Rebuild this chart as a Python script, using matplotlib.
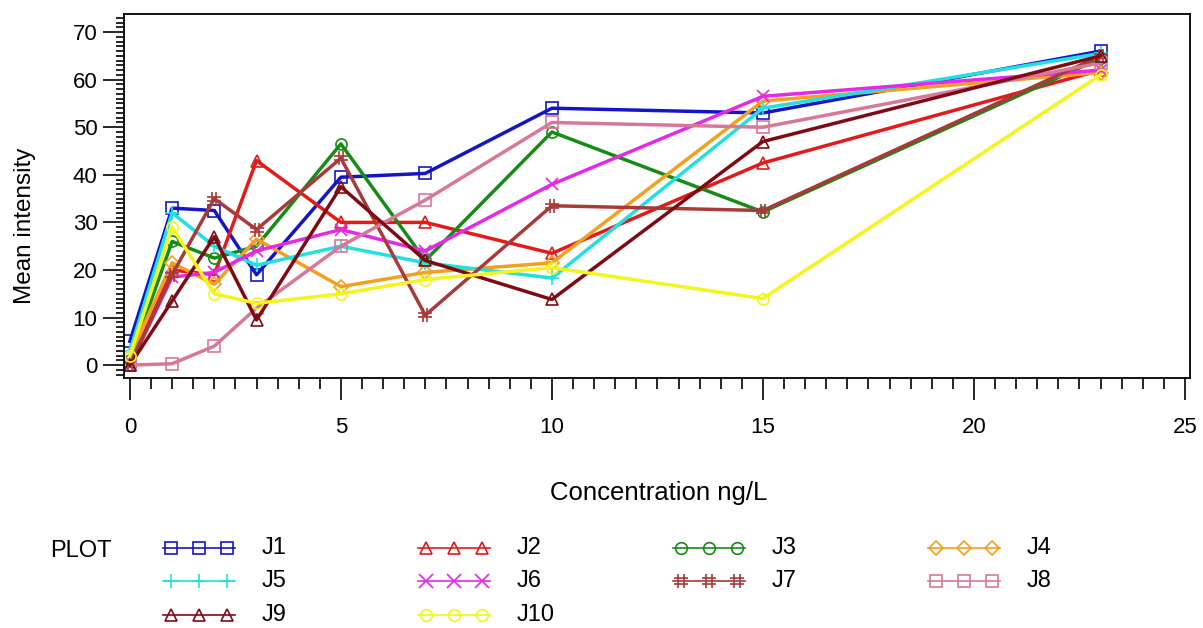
import matplotlib
matplotlib.use("Agg")
import matplotlib.pyplot as plt
from matplotlib.path import Path
from matplotlib.ticker import MultipleLocator

plt.rcParams['font.family'] = ['Liberation Sans', 'DejaVu Sans']

conc = [0, 1, 2, 3, 5, 7, 10, 15, 23]

names = ["J1", "J2", "J3", "J4", "J5", "J6", "J7", "J8", "J9", "J10"]
j1 = [5, 33, 32.5, 19, 39.5, 40.3, 54, 53, 66]
j2 = [0, 20, 19, 43, 30, 30, 23.5, 42.5, 62]
j3 = [1, 26, 22.5, 25, 46.5, 22, 49, 32.2, 64.5]
j4 = [2, 21.5, 17, 26.5, 16.5, 19.5, 21.5, 55.5, 61.5]
j5 = [3, 32, 25, 21, 25, 21.5, 18.3, 54, 65.5]
j6 = [0, 18.5, 19.5, 24, 28.5, 24, 38, 56.5, 62]
j7 = [0, 19, 35, 28.5, 43.5, 10.5, 33.5, 32.5, 65]
j8 = [0, 0.3, 4, 12, 25, 34.7, 51, 50, 63.5]
j9 = [0, 13.5, 27, 9.5, 37.5, 22, 13.8, 47, 65]
j10 = [2, 29, 15, 13, 15, 18, 20.5, 14, 61]
series = [j1, j2, j3, j4, j5, j6, j7, j8, j9, j10]

# open "#" symbol built from four strokes
hash_mark = Path(
    [(-0.35, -1), (-0.35, 1), (0.35, -1), (0.35, 1),
     (-1, -0.35), (1, -0.35), (-1, 0.35), (1, 0.35)],
    [Path.MOVETO, Path.LINETO] * 4)

colors = ["#1515c8", "#e41a1a", "#178a17", "#f2a020", "#22e0e0",
          "#e52ae5", "#a83a3a", "#d6789a", "#7e0a14", "#f4f41e"]
markers = ["s", "^", "o", "D", "+", "x", hash_mark, "s", "^", "o"]
msizes = [8, 8, 8, 7, 10, 9, 10, 8, 8, 8]

fig = plt.figure(figsize=(12.03, 6.28), dpi=100)
ax = fig.add_axes([124 / 1203, 1 - 378 / 628, (1190 - 124) / 1203, (378 - 14) / 628])

for vals, c, m, ms in zip(series, colors, markers, msizes):
    ax.plot(conc, vals, color=c, lw=2.5, marker=m, ms=ms, mfc="none",
            mec=c, mew=1.2)

ax.set_xlim(-0.14, 25.12)
ax.set_ylim(-2.7, 73.8)
ax.xaxis.set_major_locator(MultipleLocator(5))
ax.xaxis.set_minor_locator(MultipleLocator(0.5))
ax.yaxis.set_major_locator(MultipleLocator(10))
ax.yaxis.set_minor_locator(MultipleLocator(1))
ax.tick_params(axis="x", which="major", length=16, width=1.2, pad=12, labelsize=16)
ax.tick_params(axis="x", which="minor", length=8, width=1.2)
ax.tick_params(axis="y", which="major", length=15, width=1.2, pad=4, labelsize=16)
ax.tick_params(axis="y", which="minor", length=6, width=1.2)
for sp in ax.spines.values():
    sp.set_linewidth(1.3)

fig.text(25 / 1203, 1 - 226 / 628, "Mean intensity", rotation=90,
         ha="center", va="center", fontsize=17.5)
fig.text(659 / 1203, 1 - 493 / 628, "Concentration ng/L",
         ha="center", va="center", fontsize=18.5)

# legend block under the axis
fig.text(50 / 1203, 1 - 551 / 628, "PLOT", ha="left", va="center", fontsize=17)
leg = fig.add_axes([0, 0, 1, 1])
leg.set_xlim(0, 1203)
leg.set_ylim(628, 0)
leg.axis("off")
col_x = [163, 418, 673, 928]
row_y = [548, 581, 615]
for i, (name, c, m, ms) in enumerate(zip(names, colors, markers, msizes)):
    x0 = col_x[i % 4]
    y0 = row_y[i // 4]
    leg.plot([x0, x0 + 72], [y0, y0], color=c, lw=1.2)
    leg.plot([x0 + 8, x0 + 36, x0 + 64], [y0] * 3, ls="none", marker=m,
             ms=ms * 1.05, mfc="none", mec=c, mew=1.2)
    leg.text(x0 + 99, y0, name, ha="left", va="center", fontsize=17)

fig.savefig("out.png", dpi=100)
